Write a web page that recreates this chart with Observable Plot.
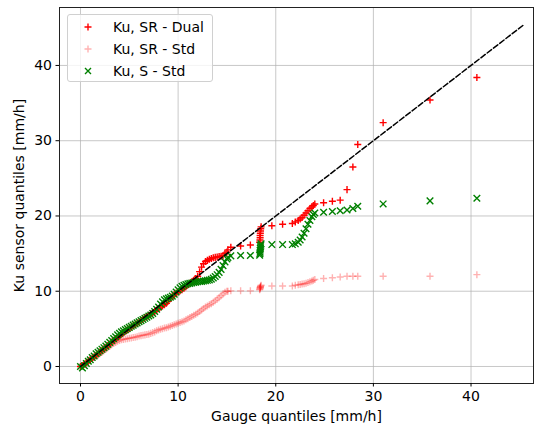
<!DOCTYPE html>
<html>
<head>
<meta charset="utf-8">
<script src="https://cdn.jsdelivr.net/npm/d3@7"></script>
<script src="https://cdn.jsdelivr.net/npm/@observablehq/plot@0.6"></script>
<style>
  html, body { margin: 0; padding: 0; background: #fff; }
  #wrap { position: relative; width: 534px; height: 424px; font-family: "DejaVu Sans", sans-serif; }
  #legend { position: absolute; left: 67px; top: 14px; width: 146px; height: 68px; box-sizing: border-box;
            border: 1px solid #d0d0d0; border-radius: 3px; background: rgba(255,255,255,0.8); }
  .row { position: absolute; left: 0; height: 20px; font-size: 14px; line-height: 20px; color: #000; white-space: nowrap; }
  .row svg { position: absolute; left: 14px; top: 4px; }
  .row span { position: absolute; left: 45px; top: 0; }
</style>
</head>
<body>
<div id="wrap"></div>
<script>
// Gauge quantiles [mm/h] (shared x for all series)
const gauge = [
  0.0, 0.2, 0.4, 0.6, 0.8, 1.0, 1.2, 1.4, 1.6, 1.8,
  2.0, 2.2, 2.4, 2.6, 2.8, 3.0, 3.2, 3.4, 3.6, 3.8,
  4.0, 4.2, 4.4, 4.6, 4.8, 5.0, 5.2, 5.4, 5.6, 5.8,
  6.0, 6.2, 6.4, 6.6, 6.8, 7.0, 7.2, 7.4, 7.6, 7.8,
  8.0, 8.2, 8.4, 8.6, 8.8, 9.0, 9.2, 9.4, 9.6, 9.8,
  10.0, 10.2, 10.4, 10.6, 10.8, 11.0, 11.2, 11.4, 11.6, 11.8,
  12.0, 12.2, 12.4, 12.6, 12.8, 13.0, 13.2, 13.4, 13.6, 13.8,
  14.0, 14.2, 14.4, 14.6, 14.8,
  15.0, 15.1, 15.4, 16.4, 17.4,
  18.35, 18.38, 18.4, 18.4, 18.42, 18.44, 18.46, 18.5,
  19.6, 20.7, 21.7, 22.0, 22.3, 22.5, 22.7, 22.9, 23.1, 23.3, 23.5, 23.7, 23.85, 24.0,
  24.9, 25.8, 26.6, 27.3, 27.9, 28.4, 31.0, 35.8, 40.6
];
// Ku, SR - Dual
const srDual = [
  0.0, 0.1, 0.3, 0.5, 0.7, 0.9, 1.1, 1.3, 1.5, 1.7,
  1.95, 2.15, 2.35, 2.55, 2.8, 3.0, 3.25, 3.5, 3.7, 3.9,
  4.1, 4.3, 4.5, 4.7, 4.85, 5.0, 5.2, 5.4, 5.55, 5.75,
  5.95, 6.1, 6.3, 6.5, 6.65, 6.8, 7.0, 7.15, 7.3, 7.5,
  7.7, 7.9, 8.05, 8.2, 8.4, 8.7, 9.0, 9.3, 9.55, 9.75,
  9.9, 10.05, 10.2, 10.4, 10.6, 10.85, 11.05, 11.25, 11.45, 11.7,
  12.0, 12.6, 13.2, 13.65, 13.95, 14.1, 14.25, 14.35, 14.45, 14.5,
  14.55, 14.6, 14.65, 14.75, 15.0,
  15.2, 15.5, 15.85, 16.0, 16.15,
  16.5, 16.8, 17.1, 17.4, 17.7, 18.0, 18.3, 18.55,
  18.7, 18.9, 19.0, 19.2, 19.4, 19.6, 19.8, 20.1, 20.4, 20.7, 21.0, 21.2, 21.4, 21.6,
  21.75, 21.95, 22.1, 23.5, 26.5, 29.5, 32.4, 35.4, 38.4
];
// Ku, SR - Std
const srStd = [
  0.0, 0.1, 0.3, 0.5, 0.7, 0.9, 1.05, 1.2, 1.35, 1.5,
  1.7, 1.9, 2.1, 2.3, 2.5, 2.7, 2.9, 3.05, 3.2, 3.35,
  3.45, 3.55, 3.6, 3.65, 3.7, 3.75, 3.8, 3.85, 3.9, 3.95,
  4.05, 4.1, 4.15, 4.2, 4.25, 4.3, 4.4, 4.5, 4.6, 4.75,
  4.85, 4.95, 5.0, 5.1, 5.15, 5.25, 5.35, 5.45, 5.55, 5.65,
  5.75, 5.85, 5.95, 6.05, 6.2, 6.35, 6.5, 6.65, 6.8, 6.95,
  7.1, 7.3, 7.5, 7.7, 7.9, 8.05, 8.2, 8.35, 8.55, 8.75,
  8.95, 9.15, 9.4, 9.65, 9.85,
  10.0, 10.0, 10.05, 10.05, 10.05,
  10.2, 10.3, 10.4, 10.5, 10.55, 10.6, 10.7, 10.8,
  10.7, 10.7, 10.7, 10.8, 10.85, 10.9, 10.95, 11.0, 11.05, 11.15, 11.25, 11.35, 11.45, 11.55,
  11.7, 11.8, 11.9, 12.0, 12.0, 12.0, 12.0, 12.0, 12.2
];
// Ku, S - Std
const sStd = [
  0.0, -0.2, 0.1, 0.4, 0.7, 0.9, 1.2, 1.4, 1.7, 1.9,
  2.1, 2.3, 2.5, 2.7, 2.95, 3.2, 3.45, 3.7, 3.95, 4.2,
  4.4, 4.6, 4.75, 4.9, 5.05, 5.2, 5.35, 5.5, 5.65, 5.8,
  5.95, 6.1, 6.25, 6.4, 6.55, 6.7, 6.85, 7.05, 7.3, 7.6,
  7.9, 8.3, 8.6, 8.85, 9.0, 9.1, 9.2, 9.35, 9.6, 9.9,
  10.2, 10.45, 10.65, 10.8, 10.9, 11.0, 11.05, 11.1, 11.15, 11.2,
  11.25, 11.3, 11.3, 11.35, 11.4, 11.45, 11.5, 11.6, 11.75, 11.95,
  12.2, 12.5, 12.9, 13.4, 13.9,
  14.3, 14.5, 14.7, 14.75, 14.75,
  14.8, 15.0, 15.2, 15.45, 15.7, 15.9, 16.1, 16.3,
  16.2, 16.2, 16.2, 16.3, 16.5, 16.8, 17.2, 17.7, 18.3, 18.9, 19.4, 19.9, 20.2, 20.4,
  20.5, 20.6, 20.7, 20.8, 21.0, 21.3, 21.6, 22.0, 22.35
];
// 1:1 reference line ends
const diagX = [0, 45.4];
const diagY = [0, 45.4];
const ticks = [0, 10, 20, 30, 40];

const dual = gauge.map((g, i) => ({g, v: srDual[i]}));
const std = gauge.map((g, i) => ({g, v: srStd[i]}));
const sstd = gauge.map((g, i) => ({g, v: sStd[i]}));
const diag = diagX.map((x, i) => ({x, y: diagY[i]}));

const chart = Plot.plot({
  width: 534,
  height: 424,
  marginLeft: 59,
  marginRight: 1,
  marginTop: 7,
  marginBottom: 41,
  style: {fontFamily: "DejaVu Sans, sans-serif", fontSize: "14px", background: "white", color: "black"},
  x: {domain: [-2.15, 46.4]},
  y: {domain: [-2.26, 47.7]},
  marks: [
    Plot.gridX(ticks, {stroke: "#b0b0b0", strokeOpacity: 0.7, strokeWidth: 1}),
    Plot.gridY(ticks, {stroke: "#b0b0b0", strokeOpacity: 0.7, strokeWidth: 1}),
    Plot.dot(dual, {x: "g", y: "v", symbol: "plus", r: 2.4, stroke: "red", strokeWidth: 1.4}),
    Plot.dot(std, {x: "g", y: "v", symbol: "plus", r: 2.4, stroke: "red", strokeOpacity: 0.3, strokeWidth: 1.4}),
    Plot.dot(sstd, {x: "g", y: "v", symbol: "times", r: 3.1, stroke: "green", strokeWidth: 1.4}),
    Plot.line(diag, {x: "x", y: "y", stroke: "black", strokeWidth: 1.5, strokeDasharray: "5.5,2.4"}),
    Plot.frame({stroke: "#222", strokeWidth: 1}),
    Plot.axisX(ticks, {tickSize: 3.5, tickPadding: 4, fontSize: 14, label: "Gauge quantiles [mm/h]", labelAnchor: "center", labelOffset: 37, labelArrow: "none"}),
    Plot.axisY(ticks, {tickSize: 3.5, tickPadding: 4, fontSize: 14, label: "Ku sensor quantiles [mm/h]", labelAnchor: "center", labelOffset: 45, labelArrow: "none"})
  ]
});

const wrap = document.getElementById("wrap");
wrap.appendChild(chart);

const legendItems = [
  {label: "Ku, SR - Dual", color: "red", opacity: 1, sym: "plus"},
  {label: "Ku, SR - Std", color: "red", opacity: 0.3, sym: "plus"},
  {label: "Ku, S - Std", color: "green", opacity: 1, sym: "times"}
];
const leg = document.createElement("div");
leg.id = "legend";
legendItems.forEach((it, i) => {
  const row = document.createElement("div");
  row.className = "row";
  row.style.top = (2 + i * 22) + "px";
  const path = it.sym === "plus" ? "M6,2.5V9.5M2.5,6H9.5" : "M3,3L9,9M3,9L9,3";
  row.innerHTML = `<svg width="12" height="12"><path d="${path}" stroke="${it.color}" stroke-opacity="${it.opacity}" stroke-width="1.4" fill="none"/></svg><span>${it.label}</span>`;
  leg.appendChild(row);
});
wrap.appendChild(leg);
</script>
</body>
</html>
